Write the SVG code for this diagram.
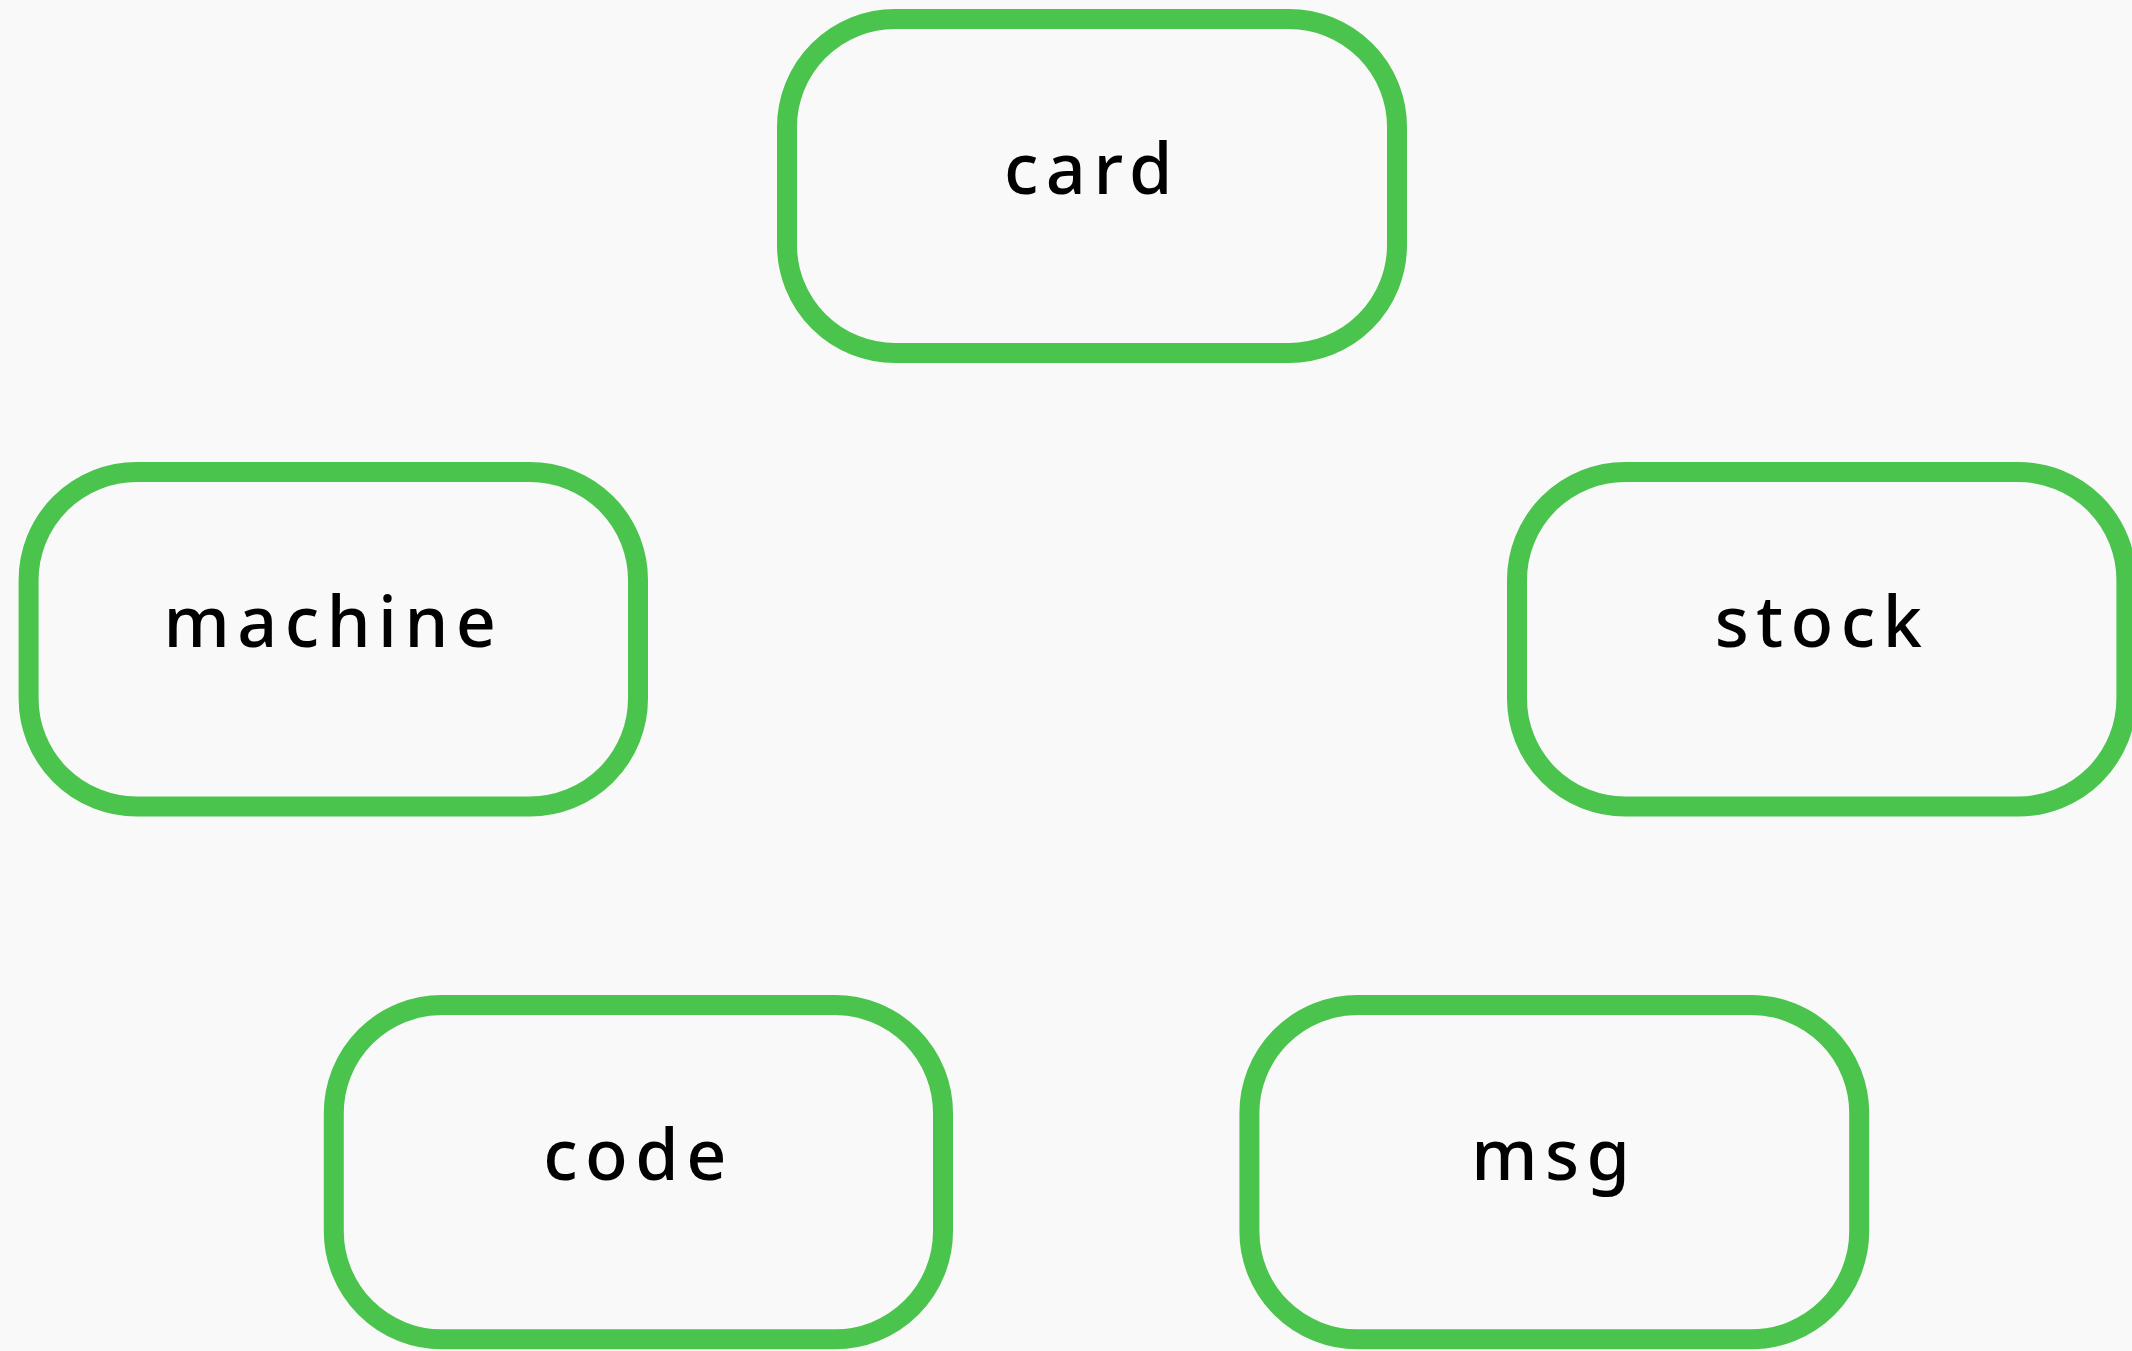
<svg xmlns="http://www.w3.org/2000/svg" width="2132" height="1351" viewBox="0 0 2132 1351">
<style>
.box{fill:#f9f9f9;stroke:#4bc44e;stroke-width:20}
.lbl{font-family:"Noto Sans","Open Sans",sans-serif;font-size:70px;font-weight:500;letter-spacing:7.5px;fill:#000;text-anchor:middle}
</style>
<rect width="2132" height="1351" fill="#f9f9f9"/>
<g id="connectors"></g>
<g id="card"><rect class="box" x="787" y="19" width="610" height="334" rx="108" ry="108"/><text class="lbl" x="1092" y="193.5">card</text></g>
<g id="machine"><rect class="box" x="28.6" y="472" width="609.4" height="334.5" rx="108" ry="108"/><text class="lbl" x="333.5" y="646.7">machine</text></g>
<g id="stock"><rect class="box" x="1517" y="472" width="609.4" height="334.5" rx="108" ry="108"/><text class="lbl" x="1822" y="646.7">stock</text></g>
<g id="code"><rect class="box" x="333.8" y="1005" width="609.2" height="334.3" rx="108" ry="108"/><text class="lbl" x="638.5" y="1180">code</text></g>
<g id="msg"><rect class="box" x="1249.4" y="1005" width="609.8" height="334.3" rx="108" ry="108"/><text class="lbl" x="1554.3" y="1180">msg</text></g>
</svg>
